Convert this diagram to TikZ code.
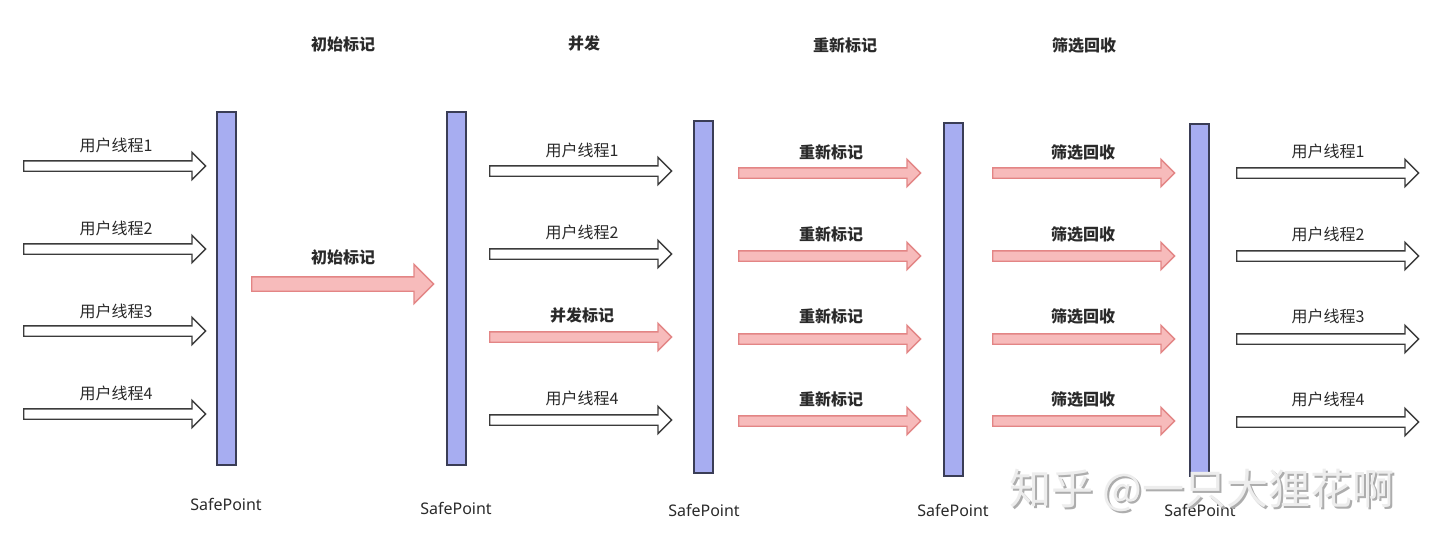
\documentclass[tikz,border=0pt]{standalone}
\usepackage{fontspec}
\setmainfont{Noto Sans CJK SC}
\newfontfamily\latinfont{Noto Sans}
\usetikzlibrary{shapes.arrows}
\definecolor{barfill}{HTML}{A7ADF1}
\definecolor{barline}{HTML}{3A3D56}
\definecolor{pinkfill}{HTML}{F7BBBB}
\definecolor{pinkline}{HTML}{E38585}
\definecolor{arrline}{HTML}{3B3B3B}
\definecolor{txt}{HTML}{2A2A2A}
\tikzset{
  barbox/.style={draw=barline, fill=barfill, line width=0.75pt, minimum width=9.5pt, inner sep=0pt},
  arrbase/.style={single arrow, shape border rotate=0, inner sep=0pt, inner ysep=2.25pt, anchor=tail,
      single arrow head extend=4.25pt, single arrow tip angle=90, minimum height=91pt, line width=0.7pt},
  whitearr/.style={arrbase, draw=arrline, fill=white},
  pinkarr/.style={arrbase, draw=pinkline, fill=pinkfill},
  thlabel/.style={font=\fontsize{8pt}{9pt}\selectfont, text=txt, inner sep=0pt},
  pklabel/.style={font=\fontsize{8pt}{9pt}\selectfont\bfseries, text=txt, inner sep=0pt},
  hdlabel/.style={font=\fontsize{8pt}{9pt}\selectfont\bfseries, text=txt, inner sep=0pt},
  splabel/.style={font=\latinfont\fontsize{8pt}{9pt}\selectfont, text=txt, inner sep=0pt},
  wmark/.style={font=\fontsize{21pt}{22pt}\selectfont, inner sep=0pt, anchor=west}
}
\begin{document}
\begin{tikzpicture}[x=0.5pt,y=-0.5pt]
\useasboundingbox[fill=white] (0,0) rectangle (1440,551);

% headers
\node[hdlabel] (h1) at (343,44) {初始标记};
\node[hdlabel] (h2) at (584,43) {并发};
\node[hdlabel] (h3) at (845,45) {重新标记};
\node[hdlabel] (h4) at (1084,45) {筛选回收};

% safepoint bars
\node[barbox, minimum height=176.5pt] (b1) at (226.5,288.5) {};
\node[barbox, minimum height=176.5pt] (b2) at (456.5,288.5) {};
\node[barbox, minimum height=176pt] (b3) at (703.5,297) {};
\node[barbox, minimum height=176.5pt] (b4) at (953.5,299.5) {};
\node[barbox, minimum height=176pt] (b5) at (1199.5,300) {};

\node[splabel] (s1) at (226,504) {SafePoint};
\node[splabel] (s2) at (456,508) {SafePoint};
\node[splabel] (s3) at (704,510) {SafePoint};
\node[splabel] (s4) at (953,510) {SafePoint};
\node[splabel] (s5) at (1200,510) {SafePoint};

% column 1
\node[whitearr] (a11) at (23,166) {};
\node[whitearr] (a12) at (23,249) {};
\node[whitearr] (a13) at (23,331) {};
\node[whitearr] (a14) at (23,414) {};
\node[thlabel] (l11) at (116,145) {用户线程1};
\node[thlabel] (l12) at (116,228) {用户线程2};
\node[thlabel] (l13) at (116,311) {用户线程3};
\node[thlabel] (l14) at (116,393) {用户线程4};

% initial mark
\node[pinkarr, inner ysep=3.25pt, single arrow head extend=6.25pt] (a2) at (251,284) {};
\node[pklabel] (l2) at (343,257) {初始标记};

% column 3
\node[whitearr] (a31) at (489,171) {};
\node[whitearr] (a32) at (489,254) {};
\node[pinkarr]  (a33) at (489,337) {};
\node[whitearr] (a34) at (489,420) {};
\node[thlabel] (l31) at (582,150) {用户线程1};
\node[thlabel] (l32) at (582,232) {用户线程2};
\node[pklabel] (l33) at (582,315) {并发标记};
\node[thlabel] (l34) at (582,398) {用户线程4};

% column 4
\foreach \i/\y/\ly in {1/173/152,2/256/234,3/339/316,4/421/399}{
  \node[pinkarr] (a4\i) at (738,\y) {};
  \node[pklabel] (l4\i) at (831,\ly) {重新标记};
}

% column 5
\foreach \i/\y/\ly in {1/173/152,2/256/234,3/339/316,4/421/399}{
  \node[pinkarr] (a5\i) at (992,\y) {};
  \node[pklabel] (l5\i) at (1083,\ly) {筛选回收};
}

% column 6
\foreach \i/\y/\ly in {1/173/151,2/256/234,3/339/316,4/422/399}{
  \node[whitearr] (a6\i) at (1236,\y) {};
  \node[thlabel] (l6\i) at (1328,\ly) {用户线程\i};
}

% watermark
\node[wmark, text=black!32] (wms) at (1011,492) {知乎 @一只大狸花啊};
\node[wmark, text=black!7] (wm) at (1009,490) {知乎 @一只大狸花啊};
\end{tikzpicture}
\end{document}
